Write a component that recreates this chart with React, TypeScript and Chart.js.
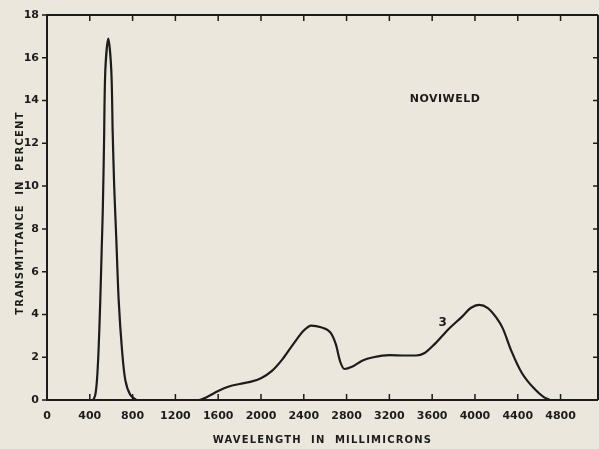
import React, { useEffect, useRef } from "react";
import { Chart, registerables } from "chart.js";

Chart.register(...registerables);

// Visible-light peak
const peakWavelength = [432, 451, 467, 482, 498, 511, 522, 533, 545, 573, 601, 614, 628, 648, 670, 701, 732, 779, 836];
const peakTransmittance = [0, 0.23, 0.93, 2.34, 4.67, 7, 9, 12, 15.4, 16.9, 15.4, 12.5, 10, 7.5, 4.67, 2.34, 0.93, 0.23, 0];
// Infrared band
const bandWavelength = [
  836, 1000, 1200, 1420, 1500, 1600, 1700, 1800, 1900, 2000, 2100, 2200, 2300, 2400, 2470, 2560, 2650, 2700, 2740,
  2780, 2850, 2950, 3050, 3200, 3350, 3450, 3530, 3620, 3750, 3880, 3960, 4040, 4120, 4200, 4260, 4340, 4440,
  4560, 4640, 4700,
];
const bandTransmittance = [
  0, 0, 0, 0, 0.15, 0.42, 0.63, 0.75, 0.85, 1.02, 1.35, 1.9, 2.6, 3.25, 3.48, 3.4, 3.15, 2.6, 1.8,
  1.45, 1.55, 1.85, 2.0, 2.1, 2.08, 2.08, 2.2, 2.6, 3.3, 3.9, 4.3, 4.45, 4.3, 3.85, 3.35, 2.3, 1.25,
  0.5, 0.15, 0,
];
const xTickValues = [0, 400, 800, 1200, 1600, 2000, 2400, 2800, 3200, 3600, 4000, 4400, 4800];
const yTickValues = [0, 2, 4, 6, 8, 10, 12, 14, 16, 18];
const xTitle = "WAVELENGTH  IN  MILLIMICRONS";
const yTitle = "TRANSMITTANCE  IN  PERCENT";
const annotationTitle = "NOVIWELD";
const curveLabel = "3";

const INK = "#1c1c1c";
const BG = "#ebe7dc";

const framePlugin = {
  id: "frame",
  beforeDraw(chart: any) {
    const ctx = chart.ctx;
    ctx.save();
    ctx.fillStyle = BG;
    ctx.fillRect(0, 0, chart.width, chart.height);
    ctx.restore();
  },
  afterDraw(chart: any) {
    const ctx = chart.ctx;
    const { left, right, top, bottom } = chart.chartArea;
    const xs = chart.scales.x;
    const ys = chart.scales.y;
    ctx.save();
    ctx.strokeStyle = INK;
    ctx.lineWidth = 2;
    ctx.beginPath();
    ctx.moveTo(left, top);
    ctx.lineTo(right, top);
    ctx.moveTo(left, top - 1);
    ctx.lineTo(left, bottom + 1);
    ctx.moveTo(left, bottom);
    ctx.lineTo(right, bottom);
    ctx.moveTo(right, top);
    ctx.lineTo(right, bottom);
    ctx.stroke();
    ctx.lineWidth = 1.5;
    ctx.beginPath();
    for (const v of xTickValues) {
      if (v === 0) continue;
      const px = xs.getPixelForValue(v);
      ctx.moveTo(px, bottom);
      ctx.lineTo(px, bottom - 6);
      ctx.moveTo(px, top);
      ctx.lineTo(px, top + 6);
    }
    for (const v of yTickValues) {
      const py = ys.getPixelForValue(v);
      ctx.moveTo(left, py);
      ctx.lineTo(left - 5, py);
      if (v > 0 && v < 18) {
        ctx.moveTo(right, py);
        ctx.lineTo(right - 5, py);
      }
    }
    ctx.stroke();

    ctx.fillStyle = INK;
    ctx.font = "bold 10px 'DejaVu Sans'";
    (ctx as any).letterSpacing = "1.2px";
    ctx.textAlign = "center";
    ctx.textBaseline = "middle";
    ctx.fillText(xTitle, (left + right) / 2, 440);
    ctx.save();
    ctx.translate(20, 213);
    ctx.rotate(-Math.PI / 2);
    ctx.fillText(yTitle, 0, 0);
    ctx.restore();

    (ctx as any).letterSpacing = "0.5px";
    ctx.font = "bold 11px 'DejaVu Sans'";
    ctx.fillText(annotationTitle, xs.getPixelForValue(3720), ys.getPixelForValue(14.05));
    ctx.font = "bold 12px 'DejaVu Sans'";
    ctx.fillText(curveLabel, xs.getPixelForValue(3700), ys.getPixelForValue(3.6));
    ctx.restore();
  },
};

export default function App() {
  const ref = useRef<HTMLCanvasElement>(null);
  useEffect(() => {
    document.body.style.margin = "0";
    document.body.style.background = BG;
    const canvas = ref.current!;
    const chart = new Chart(canvas, {
      type: "line",
      data: {
        datasets: [
          {
            data: peakWavelength.map((w, i) => ({ x: w, y: peakTransmittance[i] })),
            borderColor: INK,
            borderWidth: 2.2,
            pointRadius: 0,
            fill: false,
            tension: 0.3,
          },
          {
            data: bandWavelength.map((w, i) => ({ x: w, y: bandTransmittance[i] })),
            borderColor: INK,
            borderWidth: 2.2,
            pointRadius: 0,
            fill: false,
            cubicInterpolationMode: "monotone",
          },
        ],
      },
      options: {
        responsive: false,
        animation: false,
        events: [],
        layout: { padding: { left: 0, right: 1, top: 15, bottom: 0 } },
        plugins: { legend: { display: false }, tooltip: { enabled: false } },
        scales: {
          x: {
            type: "linear",
            min: 0,
            max: 5150,
            grid: { display: false, drawTicks: false },
            border: { display: false },
            afterBuildTicks: (scale: any) => {
              scale.ticks = xTickValues.map((v) => ({ value: v }));
            },
            afterFit: (scale: any) => {
              scale.height = 49;
            },
            ticks: {
              autoSkip: false,
              maxRotation: 0,
              padding: 10,
              color: INK,
              callback: (v: any) => String(v),
              font: { family: "'DejaVu Sans'", size: 11, weight: "bold" },
            },
          },
          y: {
            type: "linear",
            min: 0,
            max: 18,
            grid: { display: false, drawTicks: false },
            border: { display: false },
            afterBuildTicks: (scale: any) => {
              scale.ticks = yTickValues.map((v) => ({ value: v }));
            },
            afterFit: (scale: any) => {
              scale.width = 47;
            },
            ticks: {
              autoSkip: false,
              padding: 8,
              color: INK,
              callback: (v: any) => String(v),
              font: { family: "'DejaVu Sans'", size: 11, weight: "bold" },
            },
          },
        },
      },
      plugins: [framePlugin],
    } as any);
    return () => chart.destroy();
  }, []);
  return <canvas ref={ref} width={599} height={449} style={{ display: "block" }} />;
}
